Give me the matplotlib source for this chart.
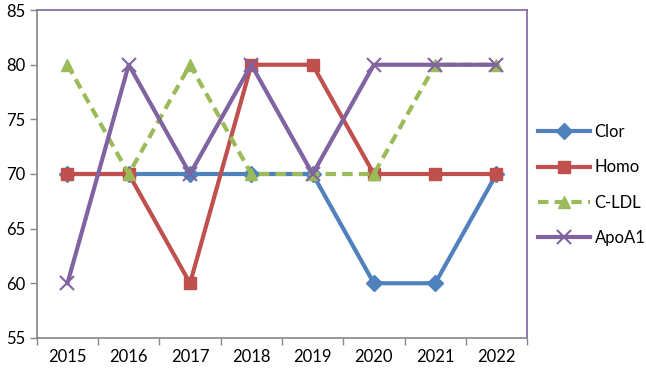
import numpy as np
import matplotlib
matplotlib.use("Agg")
import matplotlib.pyplot as plt
from matplotlib.ticker import FixedLocator

years = ["2015", "2016", "2017", "2018", "2019", "2020", "2021", "2022"]
clor = [70, 70, 70, 70, 70, 60, 60, 70]
homo = [70, 70, 60, 80, 80, 70, 70, 70]
cldl = [80, 70, 80, 70, 70, 70, 80, 80]
apoa1 = [60, 80, 70, 80, 70, 80, 80, 80]

plt.rcParams["font.family"] = ["Lato", "DejaVu Sans"]

fig = plt.figure(figsize=(6.46, 3.75), dpi=100)
ax = fig.add_axes([0.057, 0.099, 0.759, 0.874])

x = np.arange(len(years))
ax.plot(x, clor, color="#4F81BD", lw=3, marker="D", ms=8, label="Clor")
ax.plot(x, homo, color="#C0504D", lw=3, marker="s", ms=9, label="Homo")
ax.plot(x, cldl, color="#9BBB59", lw=3, ls=(0, (2.5, 1.5)), marker="^", ms=9, label="C-LDL")
ax.plot(x, apoa1, color="#8064A2", lw=3, marker="x", ms=10, mew=1.5, label="ApoA1")

ax.set_xlim(-0.5, len(years) - 0.5)
ax.set_ylim(55, 85)
ax.set_yticks(np.arange(55, 86, 5))
ax.set_xticks(x)
ax.set_xticklabels(years)
ax.xaxis.set_minor_locator(FixedLocator(np.arange(-0.5, len(years), 1)))
ax.tick_params(axis="x", which="major", length=0, pad=8, labelsize=12)
ax.tick_params(axis="x", which="minor", length=5, color="#868686", width=1)
ax.tick_params(axis="y", length=5, color="#868686", width=1, labelsize=12, pad=3)

for s in ["left", "bottom"]:
    ax.spines[s].set_color("#868686")
    ax.spines[s].set_linewidth(1.2)
for s in ["top", "right"]:
    ax.spines[s].set_color("#8064A2")
    ax.spines[s].set_linewidth(1.2)

leg = ax.legend(loc="center left", bbox_to_anchor=(538 / 646, 1 - 185 / 375),
                bbox_transform=fig.transFigure, frameon=False, borderpad=0,
                borderaxespad=0, fontsize=12, handlelength=3.1,
                labelspacing=1.15, handletextpad=0.3)

fig.savefig("out.png", dpi=100)
